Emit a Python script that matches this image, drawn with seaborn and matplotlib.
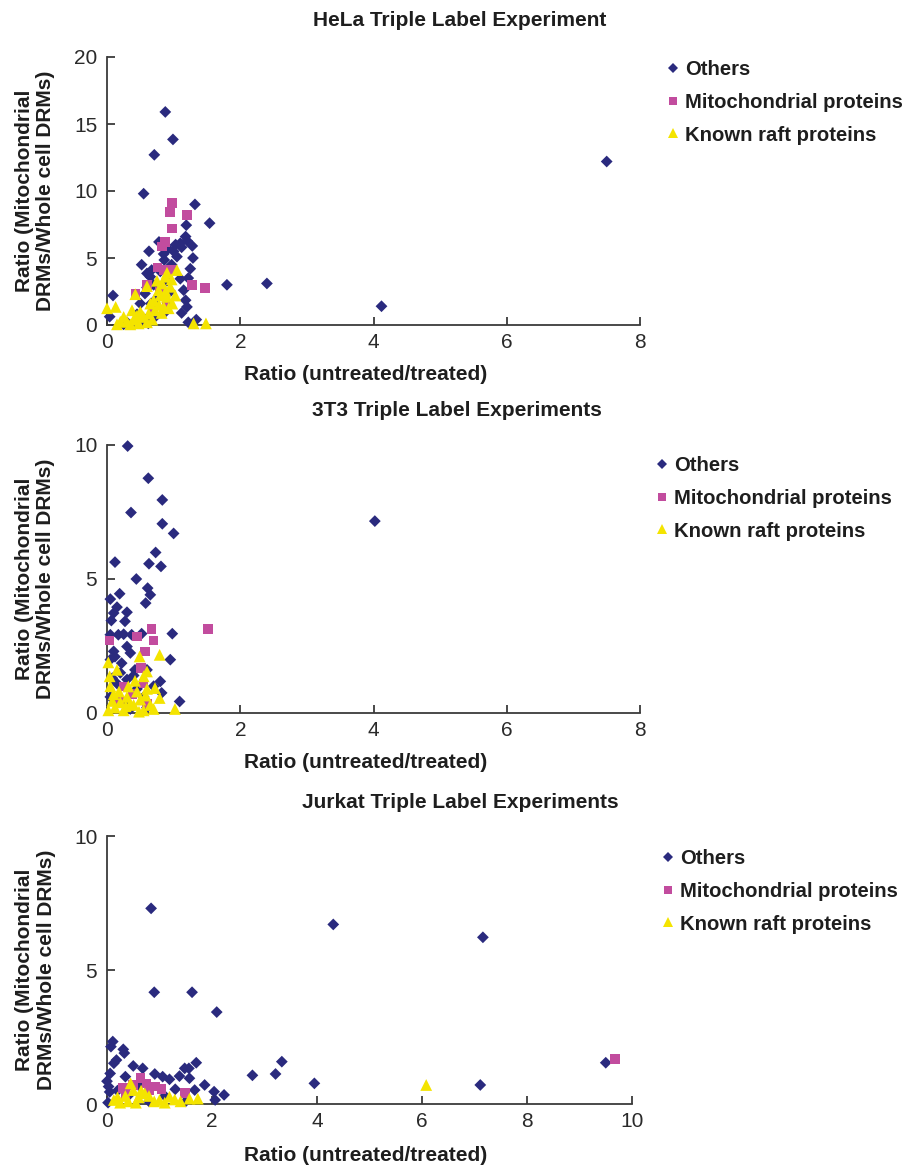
import numpy as np
import pandas as pd
import matplotlib
matplotlib.use("Agg")
import matplotlib.pyplot as plt
from matplotlib.lines import Line2D
import seaborn as sns

# ---------------- data ----------------
groups = ["Others", "Mitochondrial proteins", "Known raft proteins"]

hela_others_x = [0.875, 0.99, 0.71, 0.55, 1.32, 1.54, 1.19, 1.18, 1.2, 1.1, 1.03, 1.28, 1.12, 1.0, 1.05, 1.29,
                 0.85, 0.86, 0.78, 0.63, 0.52, 1.25, 1.22, 1.1, 0.67, 0.6, 0.65, 0.7, 1.8, 2.4, 0.09, 0.04,
                 1.18, 1.2, 1.22, 1.34, 1.12, 0.57, 0.5, 0.62, 0.58, 0.45, 0.7, 0.75, 0.8, 0.9, 0.95, 0.55,
                 0.3, 0.25, 0.4, 0.72, 0.88, 4.12, 7.5, 0.92, 0.97, 1.15, 0.6, 0.66]
hela_others_y = [15.9, 13.85, 12.7, 9.8, 9.0, 7.6, 7.45, 6.6, 6.3, 6.1, 6.0, 5.9, 5.8, 5.5, 5.1, 5.0,
                 5.3, 4.85, 6.2, 5.5, 4.5, 4.2, 3.5, 3.45, 4.1, 3.85, 3.6, 3.0, 3.0, 3.1, 2.2, 0.62,
                 1.85, 1.35, 0.2, 0.4, 0.9, 2.35, 1.6, 0.12, 0.4, 0.8, 1.2, 2.0, 4.0, 3.3, 2.5, 0.3,
                 0.2, 0.05, 0.1, 0.6, 1.0, 1.4, 12.2, 5.7, 4.5, 2.6, 2.8, 1.6]
hela_mito_x = [0.975, 0.95, 1.2, 0.975, 0.875, 0.825, 0.76, 0.86, 0.96, 1.28, 1.475, 0.6, 0.425, 0.9, 0.8, 0.7]
hela_mito_y = [9.1, 8.45, 8.2, 7.2, 6.2, 5.85, 4.3, 4.1, 4.1, 3.0, 2.75, 3.0, 2.3, 1.35, 2.5, 1.0]
hela_raft_x = [0.0, 0.13, 0.425, 0.6, 1.05, 0.875, 0.825, 0.775, 0.95, 1.025, 0.9, 0.7, 0.65, 0.78, 0.25, 0.2,
               0.3, 0.4, 0.475, 0.55, 0.625, 0.68, 0.85, 0.925, 1.3, 1.485, 0.375, 0.35, 0.5, 0.72, 0.82, 0.9,
               0.75, 0.98, 0.6, 0.15, 0.45, 0.8, 0.88, 0.97]
hela_raft_y = [1.25, 1.35, 2.3, 2.9, 4.1, 3.6, 3.1, 2.6, 2.85, 2.2, 2.1, 1.85, 1.6, 1.5, 0.6, 0.25,
               0.25, 0.4, 0.12, 0.6, 0.85, 0.4, 1.35, 1.25, 0.12, 0.12, 1.1, 0.05, 1.0, 1.1, 0.9, 3.9,
               3.3, 1.6, 0.2, 0.05, 0.7, 2.2, 2.5, 3.4]

t3_others_x = [0.31, 0.62, 0.83, 0.36, 0.83, 1.0, 0.73, 0.63, 0.81, 0.12, 0.44, 0.61, 0.65, 0.58, 0.19, 0.05,
               0.15, 0.1, 0.3, 0.065, 0.27, 0.05, 0.17, 0.25, 0.37, 0.52, 0.98, 0.3, 0.35, 0.1, 0.95, 0.42,
               0.6, 0.8, 0.82, 1.09, 0.22, 0.05, 4.02, 0.12, 0.2, 0.08, 0.15, 0.3, 0.4, 0.7, 0.55, 0.25,
               0.05, 0.35, 0.6, 0.45]
t3_others_y = [9.96, 8.76, 7.95, 7.48, 7.06, 6.7, 5.99, 5.57, 5.47, 5.63, 5.0, 4.66, 4.41, 4.1, 4.45, 4.25,
               3.95, 3.73, 3.76, 3.45, 3.42, 2.92, 2.92, 2.94, 2.92, 2.96, 2.96, 2.48, 2.24, 2.3, 1.99, 1.61,
               1.61, 1.18, 0.75, 0.43, 1.86, 1.99, 7.16, 2.1, 1.5, 1.3, 1.1, 1.25, 1.4, 1.0, 0.6, 0.4,
               0.6, 0.15, 0.2, 0.9]
t3_mito_x = [0.67, 1.52, 0.04, 0.45, 0.7, 0.57, 0.51, 0.25, 0.55, 0.38, 0.18, 0.6]
t3_mito_y = [3.13, 3.13, 2.7, 2.86, 2.71, 2.3, 1.68, 0.99, 1.1, 0.7, 0.45, 0.35]
t3_raft_x = [0.79, 0.49, 0.02, 0.15, 0.04, 0.55, 0.6, 0.72, 0.79, 1.02, 0.32, 0.05, 0.1, 0.2, 0.3, 0.4,
             0.45, 0.5, 0.55, 0.6, 0.65, 0.25, 0.12, 0.02, 0.35, 0.7, 0.42, 0.08, 0.18, 0.58, 0.48, 0.28]
t3_raft_y = [2.17, 2.11, 1.89, 1.61, 1.37, 1.37, 1.55, 0.93, 0.56, 0.15, 0.99, 1.0, 0.7, 0.4, 0.6, 0.3,
             0.8, 0.5, 0.1, 0.9, 0.3, 0.1, 0.2, 0.1, 0.35, 0.15, 1.2, 0.45, 0.8, 0.65, 0.05, 0.25]

jk_others_x = [0.84, 0.9, 1.62, 2.09, 0.11, 0.075, 0.31, 0.33, 0.18, 0.13, 0.5, 0.68, 0.06, 0.35, 0.91, 1.06,
               1.19, 1.38, 1.48, 1.56, 1.7, 1.57, 1.86, 1.67, 2.04, 2.23, 2.06, 2.77, 3.21, 3.33, 3.95, 4.31,
               7.16, 9.5, 7.11, 0.0, 0.03, 0.05, 0.02, 0.2, 0.4, 1.1, 1.3, 0.6, 0.8, 1.5]
jk_others_y = [7.3, 4.17, 4.17, 3.43, 2.33, 2.14, 2.04, 1.9, 1.64, 1.52, 1.42, 1.33, 1.14, 1.02, 1.12, 1.02,
               0.92, 1.04, 1.33, 1.33, 1.54, 0.96, 0.71, 0.52, 0.46, 0.34, 0.15, 1.07, 1.12, 1.58, 0.77, 6.7,
               6.22, 1.54, 0.71, 0.85, 0.65, 0.45, 0.05, 0.5, 0.3, 0.3, 0.55, 0.7, 0.1, 0.1]
jk_mito_x = [0.64, 0.75, 0.91, 1.04, 1.48, 0.35, 0.5, 9.68, 0.8, 0.3]
jk_mito_y = [0.96, 0.77, 0.65, 0.55, 0.42, 0.34, 0.7, 1.67, 0.5, 0.6]
jk_raft_x = [0.45, 0.5, 0.72, 0.13, 0.35, 0.4, 0.6, 0.8, 0.9, 1.19, 1.29, 1.57, 1.73, 6.08, 0.25, 0.55,
             1.0, 0.65, 0.2, 1.1, 1.4]
jk_raft_y = [0.77, 0.52, 0.4, 0.15, 0.3, 0.1, 0.25, 0.3, 0.1, 0.27, 0.17, 0.2, 0.2, 0.71, 0.05, 0.05,
             0.15, 0.5, 0.25, 0.05, 0.1]

titles = ["HeLa Triple Label Experiment", "3T3 Triple Label Experiments", "Jurkat Triple Label Experiments"]
x_label = "Ratio (untreated/treated)"
y_label = "Ratio (Mitochondrial\nDRMs/Whole cell DRMs)"

# ---------------- style ----------------
sns.set_theme(style="ticks")
plt.rcParams["font.family"] = ["Liberation Sans", "DejaVu Sans"]

colors = {"Others": "#2A2A7E", "Mitochondrial proteins": "#C24C9E", "Known raft proteins": "#F4E400"}
markers = {"Others": "D", "Mitochondrial proteins": "s", "Known raft proteins": "^"}
msize = {"Others": 36, "Mitochondrial proteins": 48, "Known raft proteins": 72}

def make_df(ox, oy, mx, my, rx, ry):
    return pd.concat([
        pd.DataFrame({"x": ox, "y": oy, "group": groups[0]}),
        pd.DataFrame({"x": mx, "y": my, "group": groups[1]}),
        pd.DataFrame({"x": rx, "y": ry, "group": groups[2]}),
    ], ignore_index=True)

dfs = [
    make_df(hela_others_x, hela_others_y, hela_mito_x, hela_mito_y, hela_raft_x, hela_raft_y),
    make_df(t3_others_x, t3_others_y, t3_mito_x, t3_mito_y, t3_raft_x, t3_raft_y),
    make_df(jk_others_x, jk_others_y, jk_mito_x, jk_mito_y, jk_raft_x, jk_raft_y),
]

W, H = 910, 1165
fig = plt.figure(figsize=(W / 100, H / 100), dpi=100)

# axes boxes in pixels: left, right(at xmax), top, bottom
boxes = [(107, 640, 57, 325), (107, 640, 445, 713), (107, 632, 836, 1104)]
xlims = [(0, 8), (0, 8), (0, 10)]
ylims = [(0, 20), (0, 10), (0, 10)]
yticks = [[0, 5, 10, 15, 20], [0, 5, 10], [0, 5, 10]]
title_pos = [(460, 20), (457, 410), (460, 802)]
legend_pos = [(665, 60), (654, 456), (660, 849)]
xlab_y = [-0.15, -0.15, -0.155]
fs = 15
lfs = 14.6

spine_col = "#3a3a3a"
for i, (df, box) in enumerate(zip(dfs, boxes)):
    l, r, t, b = box
    ax = fig.add_axes([l / W, 1 - b / H, (r - l) / W, (b - t) / H])
    for g in groups:
        sub = df[df["group"] == g]
        sns.scatterplot(data=sub, x="x", y="y", marker=markers[g], color=colors[g], s=msize[g],
                        edgecolor="none", linewidth=0, ax=ax, legend=False, clip_on=False, zorder=3)
    ax.set_xlim(*xlims[i])
    ax.set_ylim(*ylims[i])
    ax.set_xticks(np.arange(xlims[i][0], xlims[i][1] + 1, 2))
    ax.set_yticks(yticks[i])
    sns.despine(ax=ax)
    for s in ["left", "bottom"]:
        ax.spines[s].set_color(spine_col)
        ax.spines[s].set_linewidth(1.3)
    ax.tick_params(direction="in", length=6, width=1.3, color=spine_col, labelsize=fs,
                   labelcolor="#2a2a2a")
    ax.tick_params(axis="x", pad=6)
    ax.tick_params(axis="y", pad=7)
    ax.set_xlabel(x_label, fontsize=fs, fontweight="bold", color="#1e1e1e")
    ax.xaxis.set_label_coords(((366 - l) / (r - l)), xlab_y[i])
    ax.set_ylabel(y_label, fontsize=fs, fontweight="bold", color="#1e1e1e", linespacing=1.15)
    ax.yaxis.set_label_coords(-0.098, 0.5)

    tx, ty = title_pos[i]
    fig.text(tx / W, 1 - ty / H, titles[i], ha="center", va="center", fontsize=fs,
             fontweight="bold", color="#1e1e1e")

    handles = [Line2D([], [], marker=markers[g], color=colors[g], linestyle="none",
                      markersize={"D": 5.5, "s": 6, "^": 7.5}[markers[g]], markeredgewidth=0) for g in groups]
    lx, ly = legend_pos[i]
    fig.legend(handles, groups, loc="upper left", bbox_to_anchor=(lx / W, 1 - ly / H),
               frameon=False, borderpad=0, borderaxespad=0, handlelength=0.75, handletextpad=0.25,
               labelspacing=0.68, prop={"weight": "bold", "size": lfs}, labelcolor="#1e1e1e")

fig.savefig("out.png", dpi=100)
